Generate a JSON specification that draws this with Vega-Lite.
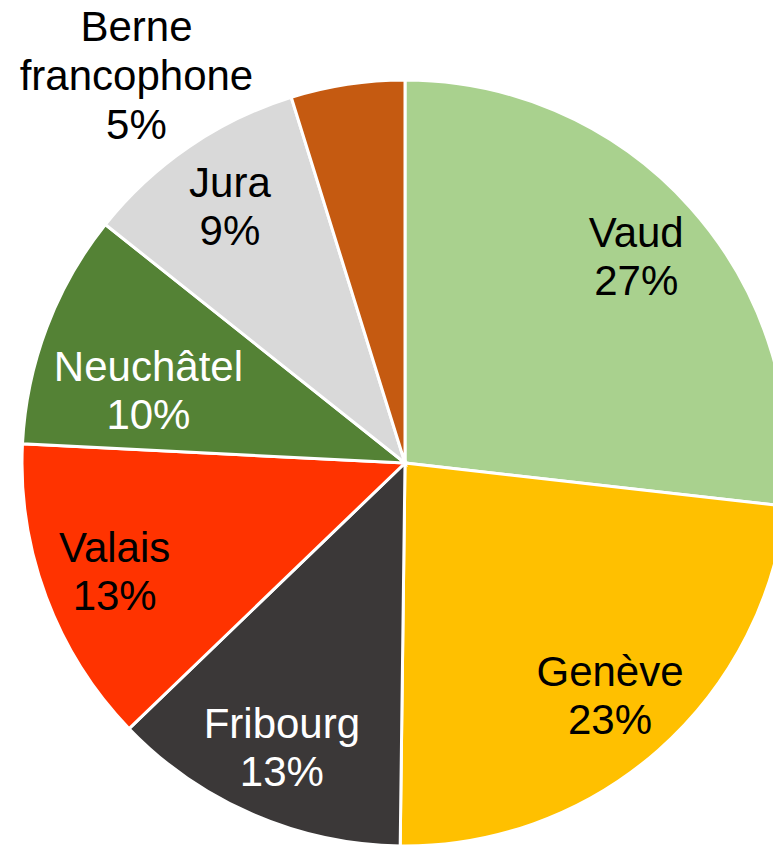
{
  "$schema": "https://vega.github.io/schema/vega-lite/v6.json",
  "width": 736,
  "height": 764,
  "autosize": {"type": "none"},
  "padding": {"left": 37, "top": 81, "right": 0, "bottom": 0},
  "background": "white",
  "view": {"stroke": null},
  "data": {
    "values": [
      {"name": "Vaud", "share": 26.8, "pct": "27%", "order": 1},
      {"name": "Genève", "share": 23.4, "pct": "23%", "order": 2},
      {"name": "Fribourg", "share": 12.6, "pct": "13%", "order": 3},
      {"name": "Valais", "share": 13.0, "pct": "13%", "order": 4},
      {"name": "Neuchâtel", "share": 9.9, "pct": "10%", "order": 5},
      {"name": "Jura", "share": 9.5, "pct": "9%", "order": 6},
      {"name": "Berne francophone", "share": 4.8, "pct": "5%", "order": 7}
    ]
  },
  "transform": [
    {"calculate": "split(datum.name + ' ' + datum.pct, ' ')", "as": "label"}
  ],
  "encoding": {
    "theta": {"field": "share", "type": "quantitative", "stack": true},
    "order": {"field": "order", "type": "quantitative"}
  },
  "layer": [
    {
      "mark": {"type": "arc", "radius": 383, "stroke": "white", "strokeWidth": 3},
      "encoding": {
        "color": {
          "field": "name",
          "type": "nominal",
          "legend": null,
          "scale": {
            "domain": ["Vaud", "Genève", "Fribourg", "Valais", "Neuchâtel", "Jura", "Berne francophone"],
            "range": ["#A9D18E", "#FFC000", "#3B3838", "#FF3300", "#548235", "#D9D9D9", "#C55A11"]
          }
        }
      }
    },
    {
      "mark": {"type": "text", "radius": 310, "dy": -23, "font": "Liberation Sans", "fontSize": 42, "lineHeight": 48, "align": "center", "baseline": "middle"},
      "encoding": {
        "text": {
          "condition": {"test": "datum.name !== 'Neuchâtel' && datum.name !== 'Berne francophone'", "field": "label"},
          "value": ""
        },
        "color": {
          "condition": {"test": "datum.name === 'Fribourg'", "value": "white"},
          "value": "black"
        }
      }
    },
    {
      "mark": {"type": "text", "radius": 270, "dx": -4, "font": "Liberation Sans", "fontSize": 42, "lineHeight": 48, "align": "center", "baseline": "middle", "color": "white"},
      "encoding": {
        "text": {
          "condition": {"test": "datum.name === 'Neuchâtel'", "field": "label"},
          "value": ""
        }
      }
    },
    {
      "mark": {"type": "text", "radius": 383, "dx": -211, "dy": -56, "font": "Liberation Sans", "fontSize": 42, "lineHeight": 49, "align": "center", "baseline": "middle", "color": "black"},
      "encoding": {
        "text": {
          "condition": {"test": "datum.name === 'Berne francophone'", "field": "label"},
          "value": ""
        }
      }
    }
  ]
}
